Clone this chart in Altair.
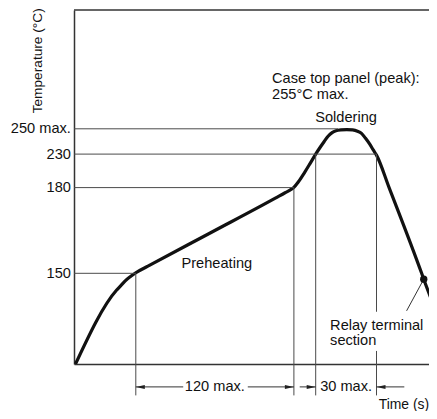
import altair as alt
import pandas as pd

# ---- data read from the schematic (time in s, temperature in °C) ----
curve_t = [1.1, 30.9, 34.1, 37.3, 40.9, 45.0, 54.2, 101.8, 150.9, 158.3, 162.0, 165.0,
           168.0, 172.4, 176.1, 180.0, 182.3, 184.2, 186.1, 188.1, 190.0, 192.4, 195.3,
           198.2, 200.6, 202.6, 204.5, 206.5, 208.4, 210.0, 217.2, 235.8, 237.0, 244.5]
curve_T = [25.0, 126.6, 133.0, 139.5, 145.2, 150.2, 152.5, 164.2, 176.3, 178.2, 179.1, 180.3,
           188.3, 202.8, 215.9, 230.0, 235.6, 240.0, 244.1, 247.0, 248.5, 249.2, 249.4,
           249.1, 248.1, 246.4, 242.7, 238.3, 233.3, 228.5, 180.0, 150.0, 141.9, 94.8]

ytick_values = [150, 180, 230, 250]

# horizontal guide lines: temperature and the time where they meet the curve
hline_T = [250, 230, 180, 150]
hline_end = [191, 210, 165, 45]

# vertical guide lines that drop to the dimension row
vline_t = [45, 165, 180, 210]
vline_T = [150, 180, 230, 43]
# vertical segment above the "Relay terminal" note
vseg_t = [210]
vseg_T1 = [230]
vseg_T2 = [97]

# dimension-line segments (time from, time to)
dim_from = [45, 130, 169, 210]
dim_to = [81, 165, 180, 225.9]
arrow_left_t = [45, 210]
arrow_right_t = [165, 180]
dim_labels = ["120 max.", "30 max."]
dim_label_t = [105, 195]

# relay terminal point and its leader
dot_t = [237.0]
dot_T = [141.9]
leader_t2 = [227.2]
leader_T2 = [98.3]

notes_left = ["Case top panel (peak):", "255°C max.", "Relay terminal", "section"]
notes_left_t = [148.4, 148.4, 187.1, 187.1]
notes_left_T = [269.4, 262.6, 72.3, 50.7]
notes_center = ["Soldering", "Preheating"]
notes_center_t = [195, 106.5]
notes_center_T = [253, 151.9]

# ---- schematic (piecewise) scales ----
X_SCALE = alt.Scale(domain=[0, 45, 165, 180, 210, 240],
                    range=[0, 61.8, 219.9, 241.7, 302.5, 355], zero=False, nice=False)
Y_SCALE = alt.Scale(domain=[25, 150, 180, 230, 250, 300],
                    range=[354, 263.3, 177.6, 144.1, 118.8, 0], zero=False, nice=False)

FONT = "Liberation Sans"
FS = 14.6
DIM_Y = 376.9
DIM_BOTTOM = 385.4
GUIDE = "#4a4a4a"
INK = "#111111"

curve_df = pd.DataFrame({"t": curve_t, "T": curve_T})
hl_df = pd.DataFrame({"t0": [0] * len(hline_T), "t1": hline_end, "T": hline_T})
vl_df = pd.DataFrame({"t": vline_t, "T": vline_T})
vs_df = pd.DataFrame({"t": vseg_t, "T": vseg_T1, "T2": vseg_T2})
dim_df = pd.DataFrame({"t": dim_from, "t2": dim_to})
al_df = pd.DataFrame({"t": arrow_left_t})
ar_df = pd.DataFrame({"t": arrow_right_t})
dl_df = pd.DataFrame({"t": dim_label_t, "label": dim_labels})
dot_df = pd.DataFrame({"t": dot_t, "T": dot_T, "t2": leader_t2, "T2": leader_T2})
top_df = pd.DataFrame({"t0": [0], "t1": [240], "T": [300]})
nl_df = pd.DataFrame({"t": notes_left_t, "T": notes_left_T, "label": notes_left})
nc_df = pd.DataFrame({"t": notes_center_t, "T": notes_center_T, "label": notes_center})

X_AXIS = alt.Axis(
    labels=False, ticks=False, grid=False, domainColor="#333", domainWidth=1.5,
    title="Time (s)", titleFont=FONT, titleFontSize=13.9, titleFontWeight="normal",
    titleColor=INK, titleX=304.2, titleY=44, titleAlign="left",
    titleBaseline="alphabetic", titleAnchor="start")
Y_AXIS = alt.Axis(
    values=ytick_values,
    labelExpr="datum.value == 250 ? '250 max.' : datum.label",
    ticks=False, grid=False, domainColor="#333", domainWidth=1.5,
    labelFont=FONT, labelFontSize=FS, labelColor=INK, labelPadding=3.6,
    title="Temperature (°C)", titleFont=FONT, titleFontSize=13.7,
    titleFontWeight="normal", titleColor=INK, titleAngle=270,
    titleX=-36.9, titleY=50.3, titleAlign="center", titleBaseline="middle")


def X(field):
    return alt.X(field, type="quantitative", scale=X_SCALE, axis=X_AXIS)


def Y(field):
    return alt.Y(field, type="quantitative", scale=Y_SCALE, axis=Y_AXIS)


curve = alt.Chart(curve_df).mark_line(
    color=INK, strokeWidth=3.2, interpolate="monotone", clip=True
).encode(x=X("t"), y=Y("T"))

hlines = alt.Chart(hl_df).mark_rule(color=GUIDE, strokeWidth=1).encode(
    x=X("t0"), x2="t1", y=Y("T"))
top_border = alt.Chart(top_df).mark_rule(color="#333", strokeWidth=1.5).encode(
    x=X("t0"), x2="t1", y=Y("T"))
vlines = alt.Chart(vl_df).mark_rule(color=GUIDE, strokeWidth=1).encode(
    x=X("t"), y=Y("T"), y2=alt.value(DIM_BOTTOM))
vseg = alt.Chart(vs_df).mark_rule(color=GUIDE, strokeWidth=1).encode(
    x=X("t"), y=Y("T"), y2="T2")
dims = alt.Chart(dim_df).mark_rule(color="#333", strokeWidth=1).encode(
    x=X("t"), x2="t2", y=alt.value(DIM_Y))
arrow_l = alt.Chart(al_df).mark_point(
    shape="M-1,0L1,-0.45L1,0.45Z", size=81, filled=True, color="#222",
    opacity=1, strokeWidth=0, xOffset=4.5
).encode(x=X("t"), y=alt.value(DIM_Y))
arrow_r = alt.Chart(ar_df).mark_point(
    shape="M1,0L-1,-0.45L-1,0.45Z", size=81, filled=True, color="#222",
    opacity=1, strokeWidth=0, xOffset=-4.5
).encode(x=X("t"), y=alt.value(DIM_Y))
dim_text = alt.Chart(dl_df).mark_text(
    font=FONT, fontSize=FS, color=INK, align="center", baseline="middle"
).encode(x=X("t"), y=alt.value(DIM_Y), text="label:N")
leader = alt.Chart(dot_df).mark_rule(color="#333", strokeWidth=1).encode(
    x=X("t"), x2="t2", y=Y("T"), y2="T2")
dot = alt.Chart(dot_df).mark_circle(size=54, color=INK, opacity=1).encode(
    x=X("t"), y=Y("T"))
notes_l = alt.Chart(nl_df).mark_text(
    font=FONT, fontSize=FS, color=INK, align="left", baseline="alphabetic"
).encode(x=X("t"), y=Y("T"), text="label:N")
notes_c = alt.Chart(nc_df).mark_text(
    font=FONT, fontSize=FS, color=INK, align="center", baseline="alphabetic"
).encode(x=X("t"), y=Y("T"), text="label:N")

chart = alt.layer(
    curve, hlines, top_border, vlines, vseg, dims, arrow_l, arrow_r, dim_text,
    leader, dot, notes_l, notes_c
).properties(
    width=355, height=354,
    padding={"left": 66, "top": 2, "right": 0, "bottom": 47},
    autosize=alt.AutoSizeParams(type="none"),
    background="white",
).configure_view(stroke=None)

chart.save("out.html", embed_options={"renderer": "svg", "actions": False})
